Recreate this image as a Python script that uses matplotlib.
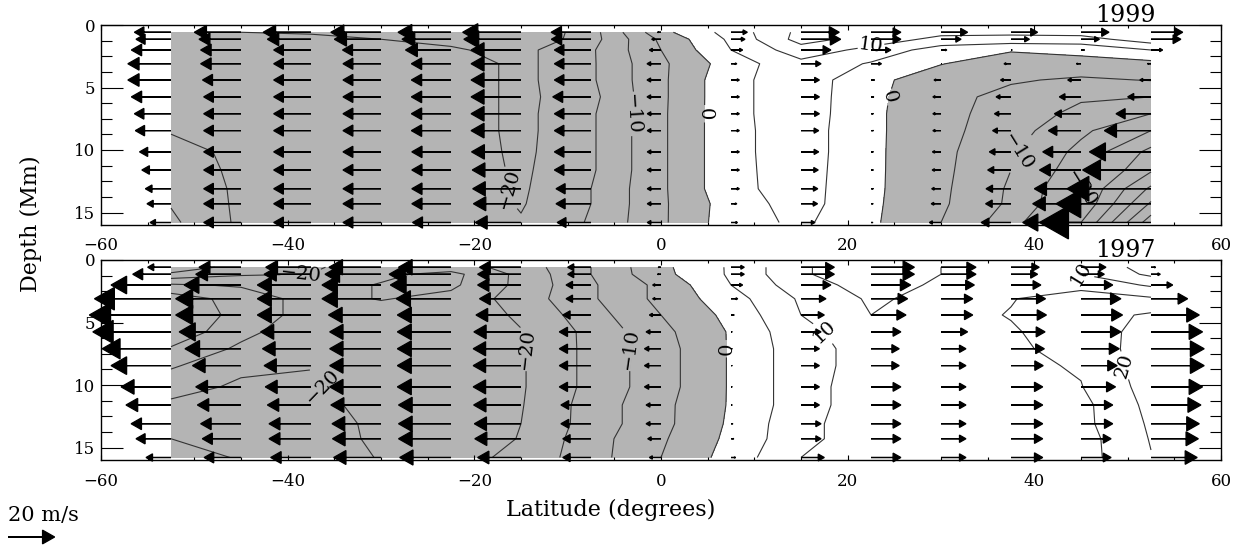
import numpy as np
import matplotlib.pyplot as plt
from matplotlib.ticker import MultipleLocator

plt.rcParams['font.family'] = ['DejaVu Serif']
plt.rcParams['contour.negative_linestyle'] = 'solid'

# grid of the inversion: latitude (deg) and depth (Mm)
lats = [-52.5, -45, -37.5, -30, -22.5, -15, -7.5, 0, 7.5, 15, 22.5, 30, 37.5, 45, 52.5]
depths = [0.58, 1.14, 2.0, 3.1, 4.4, 5.75, 7.1, 8.45, 10.15, 11.6, 13.1, 14.3, 15.8]

# meridional flow (m/s), one list per latitude, surface -> deep
v1999 = [
    [-15.7, -15.0, -17.0, -18.5, -18.5, -17.0, -15.7, -15.3, -13.5, -12.5, -11.0, -10.3, -9.0],
    [-20.0, -18.0, -17.3, -17.3, -16.5, -16.0, -16.0, -16.0, -16.0, -16.0, -16.0, -16.0, -16.0],
    [-20.5, -18.7, -16.0, -16.0, -16.0, -16.0, -16.0, -16.0, -16.0, -16.0, -16.0, -16.0, -16.0],
    [-21.5, -20.0, -16.5, -16.3, -16.3, -16.3, -16.3, -16.3, -16.3, -16.3, -16.3, -16.3, -16.3],
    [-22.7, -21.0, -19.5, -17.0, -17.0, -17.0, -17.0, -17.0, -16.8, -16.8, -16.8, -16.8, -16.5],
    [-25.0, -24.5, -21.4, -21.4, -21.4, -21.4, -21.4, -21.4, -21.2, -20.9, -20.7, -20.4, -19.6],
    [-17.1, -17.0, -15.7, -15.7, -15.7, -16.4, -15.7, -15.7, -15.7, -15.7, -15.0, -15.0, -14.5],
    [-1.5, -4.0, -5.0, -6.0, -6.0, -6.0, -5.9, -5.9, -5.9, -5.9, -5.9, -5.9, -5.9],
    [7.0, 6.0, 5.0, 2.5, 3.6, 3.6, 3.6, 3.6, 3.6, 3.6, 3.6, 2.5, 2.8],
    [16.4, 17.0, 12.8, 8.6, 7.9, 7.9, 7.9, 7.6, 7.6, 7.4, 7.2, 7.1, 6.0],
    [12.8, 12.8, 8.5, 4.5, 1.5, 1.2, 1.0, 1.0, 1.0, 1.0, 1.0, 0.9, 0.8],
    [11.4, 8.6, 2.5, 0.2, -3.0, -3.5, -3.5, -3.5, -3.7, -3.8, -4.0, -4.2, -5.0],
    [11.4, 7.9, 0.5, -3.0, -4.5, -6.4, -7.1, -7.9, -9.3, -10.0, -10.7, -10.9, -12.8],
    [12.0, 7.9, 1.5, -2.0, -5.7, -9.3, -11.4, -14.0, -16.4, -17.8, -20.0, -20.7, -25.0],
    [13.6, 12.8, 5.0, -1.5, -4.8, -10.0, -15.0, -20.0, -26.4, -29.3, -36.0, -40.7, -47.8],
]

v1997 = [
    [-10.0, -16.4, -25.7, -32.8, -35.0, -33.5, -29.5, -25.7, -21.4, -19.3, -17.1, -15.0, -10.7],
    [-18.0, -19.4, -24.4, -28.0, -28.0, -26.5, -24.0, -20.8, -19.4, -18.7, -17.3, -16.6, -15.8],
    [-19.4, -20.1, -23.0, -23.0, -23.0, -21.6, -20.8, -20.1, -19.6, -18.7, -18.0, -18.0, -17.3],
    [-22.3, -24.0, -25.3, -25.3, -22.5, -22.0, -22.0, -22.0, -22.0, -21.5, -21.0, -20.8, -20.3],
    [-22.5, -26.5, -26.0, -23.5, -23.0, -23.0, -23.0, -23.0, -23.0, -22.5, -22.5, -22.5, -22.0],
    [-17.8, -18.6, -18.6, -17.8, -19.3, -20.2, -20.5, -20.5, -20.5, -20.3, -20.0, -19.8, -18.6],
    [-10.0, -10.0, -10.7, -10.7, -12.1, -13.6, -13.6, -13.6, -13.6, -12.9, -12.9, -12.1, -12.1],
    [-1.2, -1.5, -3.6, -3.6, -5.0, -6.4, -7.1, -7.1, -7.1, -6.4, -6.4, -5.7, -5.0],
    [5.7, 5.7, 5.0, 2.9, 1.4, 0.5, 0.5, 0.5, 0.5, 0.5, 0.8, 1.2, 2.0],
    [14.3, 14.3, 12.8, 10.7, 10.0, 8.6, 7.9, 7.9, 7.9, 7.9, 8.6, 8.6, 10.0],
    [18.6, 18.6, 17.0, 15.7, 15.0, 12.8, 12.1, 12.1, 12.8, 12.8, 12.8, 12.8, 12.8],
    [15.0, 15.0, 14.3, 13.6, 13.6, 11.4, 10.7, 10.7, 10.7, 10.7, 10.7, 10.7, 10.7],
    [12.1, 11.4, 12.8, 14.8, 15.2, 14.6, 14.3, 13.8, 13.6, 13.6, 13.6, 13.6, 13.6],
    [10.7, 10.0, 13.6, 17.1, 17.8, 17.1, 16.4, 15.5, 14.8, 13.6, 13.6, 12.9, 12.9],
    [2.0, 4.0, 9.3, 15.7, 20.7, 22.1, 22.8, 22.8, 22.1, 21.4, 20.7, 20.3, 19.8],
]

SCALE = 0.25  # degrees of latitude per m/s for the arrows
W, H = 1247, 548


def lab(x):
    return f'{x:.0f}'.replace('-', '\u2212')


def panel(ax, v, year):
    v = np.array(v).T
    ax.contourf(lats, depths, v, levels=[-100, 0], colors=['#b4b4b4'], zorder=1)
    cs = ax.contour(lats, depths, v, levels=np.arange(-50, 30, 5), colors='#333333',
                    linewidths=0.8, zorder=2)
    ax.clabel(cs, levels=[-20, -10, 0, 10, 20], fmt=lab, fontsize=14, colors='k',
              inline=True, inline_spacing=3)
    for i, lat in enumerate(lats):
        for j, d in enumerate(depths):
            dx = v[j, i] * SCALE
            L = abs(dx)
            ax.arrow(lat, d, dx, 0, width=0, head_width=0.22 * L, head_length=0.26 * L,
                     length_includes_head=True, fc='k', ec='k', lw=0.9,
                     clip_on=False, zorder=3)

    ax.set_xlim(-60, 60)
    ax.set_ylim(16, 0)
    ax.xaxis.set_major_locator(MultipleLocator(20))
    ax.xaxis.set_minor_locator(MultipleLocator(5))
    ax.yaxis.set_major_locator(MultipleLocator(5))
    ax.yaxis.set_minor_locator(MultipleLocator(1.25))
    ax.tick_params(which='both', direction='in', top=True, right=True, width=0.8)
    ax.tick_params(axis='x', which='major', length=3.5, pad=9, labelsize=12)
    ax.tick_params(axis='x', which='minor', length=2)
    ax.tick_params(axis='y', which='major', length=16, pad=4, labelsize=12)
    ax.tick_params(axis='y', which='minor', length=8)
    for s in ax.spines.values():
        s.set_linewidth(1.0)
    ax.text(0.915, 1.017, year, transform=ax.transAxes, ha='center', va='baseline',
            fontsize=17)


fig = plt.figure(figsize=(W / 100, H / 100), dpi=100)
ax1 = fig.add_axes([101 / W, 1 - 225 / H, 1120 / W, 200 / H])
ax2 = fig.add_axes([101 / W, 1 - 460 / H, 1120 / W, 200 / H])

panel(ax1, v1999, '1999')
panel(ax2, v1997, '1997')

fig.text(31 / W, 1 - 224 / H, 'Depth (Mm)', rotation=90, ha='center', va='center',
         fontsize=16)
fig.text(611 / W, 1 - 516 / H, 'Latitude (degrees)', ha='center', va='baseline',
         fontsize=16)

# reference arrow
fig.text(8 / W, 1 - 521 / H, '20 m/s', ha='left', va='baseline', fontsize=15)
x0, y0 = ax2.transData.inverted().transform(fig.transFigure.transform((8 / W, 1 - 537 / H)))
ax2.arrow(x0, y0, 20 * SCALE, 0, width=0, head_width=0.22 * 20 * SCALE,
          head_length=0.26 * 20 * SCALE, length_includes_head=True, fc='k', ec='k',
          lw=0.9, clip_on=False)

fig.savefig('out.png', dpi=100)
